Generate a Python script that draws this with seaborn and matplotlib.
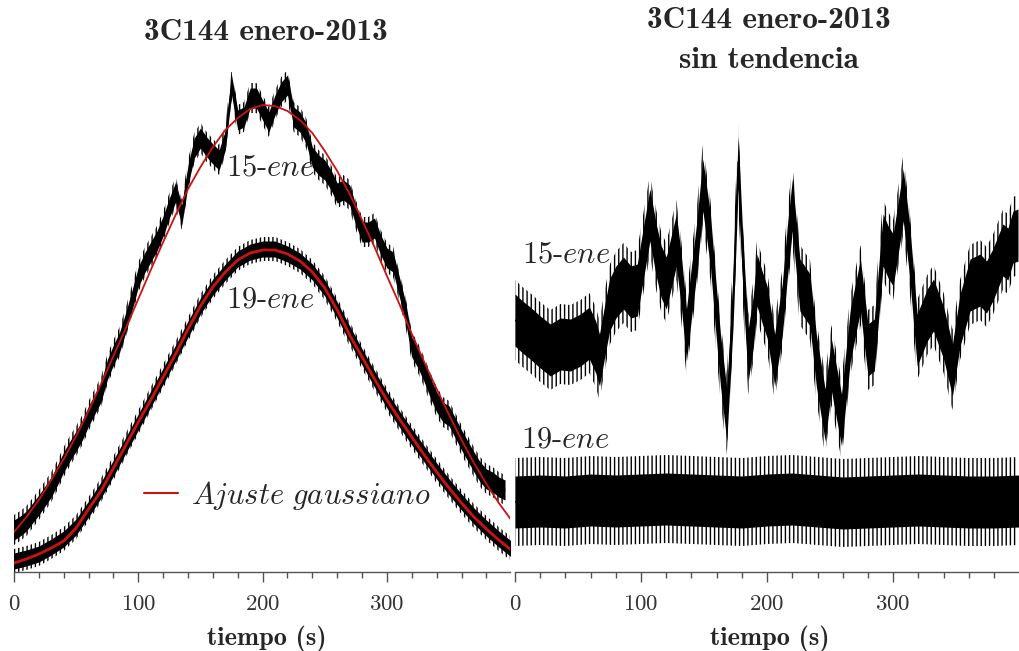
import numpy as np
import pandas as pd
import matplotlib
matplotlib.use("Agg")
import matplotlib.pyplot as plt
import seaborn as sns
from matplotlib.ticker import MultipleLocator
from matplotlib.lines import Line2D

# ---------------- data ----------------
# left panel: 15-ene raw trace (centre of noisy band), every 5 s
t15_raw = np.arange(80) * 5
y15_raw = [42, 46, 51, 59, 67, 76, 85, 97, 110, 121,
           131, 142, 156, 168, 180, 202, 217, 230, 250, 272,
           295, 309, 320, 331, 346, 364, 380, 357, 397, 424,
           434, 425, 418, 412, 432, 487, 452, 455, 474, 474,
           462, 450, 467, 480, 487, 455, 450, 439, 415, 407,
           402, 392, 379, 382, 377, 357, 340, 340, 344, 327,
           314, 310, 285, 260, 225, 214, 200, 184, 170, 160,
           156, 144, 132, 121, 110, 100, 93, 90, 85, 82]
# gaussian fits (every 10 s)
t_fit = np.arange(41) * 10
fit15 = [40, 55, 72, 92, 113, 136, 161, 188, 216, 244,
         273, 302, 330, 357, 383, 405, 425, 442, 454, 463,
         467, 466, 461, 452, 439, 421, 401, 378, 352, 325,
         296, 268, 238, 210, 183, 157, 132, 109, 88, 69, 52]
fit19 = [9, 13, 18, 24, 31, 44, 63, 81, 104, 127,
         150, 172, 195, 218, 243, 266, 285, 300, 312, 319,
         322, 322, 318, 311, 300, 284, 262, 237, 215, 193,
         172, 153, 135, 117, 100, 84, 69, 55, 43, 32, 22]
# 19-ene raw trace centre (every 10 s)
y19_raw = [11, 14, 18, 25, 33, 45, 63, 82, 104, 127,
           150, 173, 196, 219, 243, 266, 285, 300, 313, 320,
           323, 323, 318, 311, 300, 284, 262, 238, 215, 193,
           172, 153, 135, 118, 101, 85, 70, 56, 44, 33, 23]

# right panel: detrended 15-ene (centre of noisy band)
t15_det = [0, 6, 12, 20, 28, 36, 44, 52, 59, 64,
           67, 71, 75, 80, 86, 92, 97, 102, 107, 112,
           116, 120, 128, 132, 136, 140, 144, 149, 155, 159,
           163, 168, 173, 177, 181, 185, 189, 192, 196, 200,
           206, 212, 216, 220, 226, 234, 239, 246, 251, 259,
           266, 274, 280, 285, 292, 296, 300, 308, 313, 319,
           327, 332, 340, 347, 353, 361, 369, 374, 379, 387,
           391, 395, 399]
y15_det = [252, 245, 239, 230, 222, 228, 227, 232, 239, 225,
           212, 240, 267, 280, 289, 280, 282, 320, 357, 322,
           300, 289, 332, 290, 237, 280, 322, 387, 332, 270,
           212, 157, 272, 410, 302, 217, 250, 292, 275, 260,
           212, 262, 320, 367, 287, 272, 212, 157, 207, 152,
           237, 287, 222, 227, 332, 320, 312, 377, 322, 232,
           257, 267, 239, 202, 252, 287, 292, 285, 297, 322,
           318, 335, 337]
# detrended 19-ene (every 20 s)
t19_det = np.arange(21) * 20
y19_det = [70, 71, 70, 72, 71, 72, 73, 72, 71, 70,
           72, 73, 71, 69, 70, 71, 72, 71, 70, 70, 71]

xticks = [0, 100, 200, 300]
labels = ["15-ene", "19-ene"]

# ---------------- style ----------------
sns.set_theme(style="white")
plt.rcParams["font.family"] = ["cmr10", "DejaVu Serif"]
plt.rcParams["mathtext.fontset"] = "cm"
plt.rcParams["axes.formatter.use_mathtext"] = True
plt.rcParams["hatch.linewidth"] = 1.0
plt.rcParams["hatch.color"] = "black"

RED = "#cc1111"
AXC = "#555555"

fig = plt.figure(figsize=(10.2, 6.51), dpi=100)
axL = fig.add_axes([14 / 1020, 79 / 651, 496 / 1020, 500 / 651])
axR = fig.add_axes([515 / 1020, 79 / 651, 503 / 1020, 500 / 651])


def band(ax, t, y, core, fringe):
    t = np.asarray(t, float)
    y = np.asarray(y, float)
    ax.fill_between(t, y - fringe, y + fringe, facecolor="none",
                    edgecolor="black", hatch="||||", lw=0)
    ax.fill_between(t, y - core, y + core, color="black", lw=0)
    sns.lineplot(x=t, y=y, ax=ax, color="black", lw=1)


# left panel
band(axL, t15_raw, y15_raw, 10, 15)
band(axL, t_fit, y19_raw, 8, 12)
sns.lineplot(x=t_fit, y=fit15, ax=axL, color=RED, lw=1.3)
sns.lineplot(x=t_fit, y=fit19, ax=axL, color=RED, lw=2.0)

# right panel
band(axR, t15_det, y15_det, 26, 40)
band(axR, t19_det, y19_det, 26, 44)


def it(s):
    a, b = s.split("-")
    return r"$\mathit{%s}$-$\mathit{%s}$" % (a, b)


axL.text(206, 404, it(labels[0]), fontsize=22, ha="center", va="center")
axL.text(206, 272, it(labels[1]), fontsize=22, ha="center", va="center")
axR.text(41, 317, it(labels[0]), fontsize=22, ha="center", va="center")
axR.text(40, 132, it(labels[1]), fontsize=22, ha="center", va="center")

h = [Line2D([], [], color=RED, lw=1.5)]
axL.legend(h, [r"$\mathit{Ajuste\ gaussiano}$"], loc="center left",
           bbox_to_anchor=(0.262, 0.154), frameon=False, fontsize=22,
           handlelength=1.1, handletextpad=0.45, borderpad=0, borderaxespad=0)

for ax, lx in ((axL, 0.51), (axR, 0.507)):
    ax.set_xlim(0, 399)
    ax.set_ylim(0, 500)
    for s in ("left", "right", "top"):
        ax.spines[s].set_visible(False)
    ax.spines["bottom"].set_color(AXC)
    ax.spines["bottom"].set_linewidth(1.0)
    ax.set_yticks([])
    ax.set_xticks(xticks)
    ax.xaxis.set_minor_locator(MultipleLocator(20))
    ax.tick_params(axis="x", which="both", bottom=True, top=False)
    ax.tick_params(axis="x", which="major", direction="out", length=7, width=1,
                   color=AXC, labelsize=16.5, labelcolor="#333333", pad=9)
    ax.tick_params(axis="x", which="minor", direction="out", length=4, width=1,
                   color=AXC)
    ax.set_xlabel("tiempo (s)", fontfamily="cmb10", fontsize=19)
    ax.xaxis.set_label_coords(lx, -0.106)
    ax.set_ylabel("")
    ax.patch.set_alpha(0)

fig.text(266 / 1020, 1 - 32 / 651, "3C144 enero-2013", family="cmb10",
         fontsize=22.5, ha="center", va="center")
fig.text(769 / 1020, 1 - 20 / 651, "3C144 enero-2013", family="cmb10",
         fontsize=22.5, ha="center", va="center")
fig.text(769 / 1020, 1 - 60 / 651, "sin tendencia", family="cmb10",
         fontsize=22.5, ha="center", va="center")

fig.savefig("out.png", dpi=100)
